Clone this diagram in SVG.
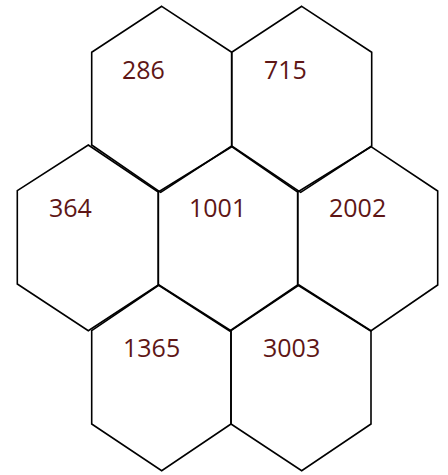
<svg xmlns="http://www.w3.org/2000/svg" width="448" height="475" viewBox="0 0 448 475">
<style>
.hex{fill:none;stroke:#000;stroke-width:1.6;stroke-linejoin:miter}
.lbl{font-family:"Open Sans","Noto Sans",sans-serif;font-size:25px;fill:#5e1616}
</style>
<rect width="448" height="475" fill="#fff"/>
<g id="hex-286"><polygon class="hex" points="161.7,6.3 231.7,52.3 231.7,146 160.7,192.3 91.7,145 91.7,52.3"/><text class="lbl" x="122" y="79">286</text></g>
<g id="hex-715"><polygon class="hex" points="301.7,6.3 371.7,52.3 371.7,146 300.7,192.3 231.7,146 231.7,52.3"/><text class="lbl" x="264" y="79">715</text></g>
<g id="hex-364"><polygon class="hex" points="88.3,145 158.3,192 158.3,285 88.3,330.7 17.3,284 17.3,190.7"/><text class="lbl" x="49" y="217">364</text></g>
<g id="hex-1001"><polygon class="hex" points="231.7,146.7 297.7,192 297.7,285 229.7,331 158.3,285 158.3,192"/><text class="lbl" x="189" y="217">1001</text></g>
<g id="hex-2002"><polygon class="hex" points="371,146.7 437.7,191 437.7,285 370.7,331 297.7,285 297.7,192"/><text class="lbl" x="329" y="217">2002</text></g>
<g id="hex-1365"><polygon class="hex" points="159,285 231,330.7 231,424 161.7,470.7 91.7,424 91.7,330.7"/><text class="lbl" x="123" y="357">1365</text></g>
<g id="hex-3003"><polygon class="hex" points="299,285 371,330.7 371,424 301.7,470.7 231,424 231,330.7"/><text class="lbl" x="263" y="357">3003</text></g>
<g id="connectors"></g>
</svg>
